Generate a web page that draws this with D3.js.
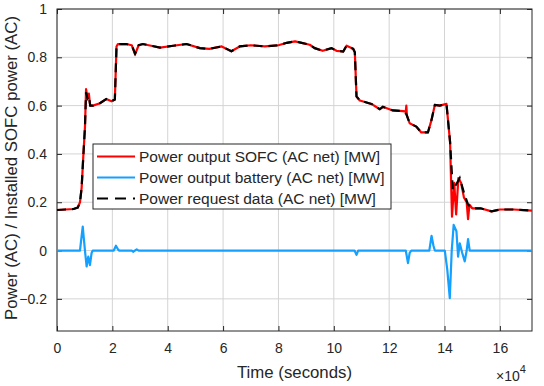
<!DOCTYPE html>
<html>
<head>
<meta charset="utf-8">
<script src="https://cdn.jsdelivr.net/npm/d3@7"></script>
<style>
  body { margin: 0; background: #fff; overflow: hidden; }
  svg { display: block; }
  text { font-family: Arial, "Liberation Sans", sans-serif; fill: #262626; }
</style>
</head>
<body>
<div id="chart"></div>
<script>
// time in units of 1e4 seconds, values relative to installed SOFC power
const requestData = [
  [0, 0.168], [0.3, 0.17], [0.6, 0.172], [0.75, 0.178], [0.83, 0.2], [0.89, 0.26],
  [0.95, 0.39], [1.01, 0.51], [1.05, 0.655], [1.1, 0.63], [1.15, 0.64], [1.2, 0.6],
  [1.3, 0.6], [1.55, 0.61], [1.78, 0.627], [1.97, 0.618], [2.09, 0.625], [2.15, 0.845],
  [2.2, 0.855], [2.5, 0.855], [2.7, 0.85], [2.82, 0.815], [2.95, 0.85], [3.1, 0.855],
  [3.4, 0.848], [3.72, 0.84], [4.2, 0.848], [4.68, 0.855], [5.16, 0.838], [5.5, 0.835],
  [5.95, 0.845], [6.3, 0.825], [6.6, 0.845], [7.0, 0.85], [7.5, 0.845], [8.0, 0.85],
  [8.3, 0.86], [8.6, 0.866], [8.8, 0.861], [9.13, 0.852], [9.31, 0.838], [9.6, 0.827],
  [9.92, 0.838], [10.1, 0.827], [10.34, 0.824], [10.46, 0.848], [10.7, 0.835], [10.76, 0.821],
  [10.82, 0.638], [10.94, 0.621], [11.36, 0.607], [11.66, 0.585], [11.77, 0.595], [12.13, 0.58],
  [12.5, 0.577], [12.62, 0.565], [12.74, 0.527], [12.98, 0.513], [13.16, 0.489], [13.4, 0.489],
  [13.53, 0.541], [13.65, 0.603], [13.83, 0.6], [14.07, 0.607], [14.2, 0.45], [14.3, 0.25],
  [14.45, 0.28], [14.55, 0.3], [14.7, 0.24], [14.85, 0.19], [15.0, 0.175], [15.3, 0.175],
  [15.7, 0.162], [16.0, 0.17], [16.5, 0.17], [17.16, 0.165]
];

const sofcData = [
  [0, 0.168], [0.3, 0.17], [0.6, 0.172], [0.75, 0.178], [0.83, 0.2], [0.89, 0.26],
  [0.95, 0.39], [1.01, 0.51], [1.05, 0.668], [1.1, 0.63], [1.15, 0.65], [1.2, 0.6],
  [1.3, 0.6], [1.55, 0.61], [1.78, 0.627], [1.97, 0.618], [2.09, 0.625], [2.15, 0.845],
  [2.2, 0.855], [2.5, 0.855], [2.7, 0.85], [2.82, 0.812], [2.95, 0.85], [3.1, 0.855],
  [3.4, 0.848], [3.72, 0.84], [4.2, 0.848], [4.68, 0.855], [5.16, 0.838], [5.5, 0.835],
  [5.95, 0.845], [6.3, 0.825], [6.6, 0.845], [7.0, 0.85], [7.5, 0.845], [8.0, 0.85],
  [8.3, 0.86], [8.6, 0.866], [8.8, 0.861], [9.13, 0.852], [9.31, 0.838], [9.6, 0.827],
  [9.92, 0.838], [10.1, 0.827], [10.34, 0.824], [10.46, 0.848], [10.7, 0.835], [10.76, 0.821],
  [10.82, 0.638], [10.94, 0.621], [11.36, 0.607], [11.66, 0.585], [11.77, 0.595], [12.13, 0.58],
  [12.5, 0.577], [12.6, 0.575], [12.62, 0.6], [12.64, 0.56], [12.74, 0.527], [12.98, 0.513],
  [13.16, 0.489], [13.4, 0.489], [13.53, 0.541], [13.65, 0.603], [13.83, 0.6], [14.07, 0.607],
  [14.2, 0.45], [14.27, 0.14], [14.35, 0.28], [14.42, 0.15], [14.5, 0.3], [14.6, 0.28],
  [14.7, 0.22], [14.8, 0.2], [14.85, 0.13], [14.9, 0.19], [15.0, 0.175], [15.3, 0.175],
  [15.7, 0.162], [16.0, 0.17], [16.5, 0.17], [17.16, 0.165]
];

const batteryData = [
  [0, 0], [0.83, 0], [0.88, 0.05], [0.93, 0.099], [0.97, 0.05], [1.01, 0], [1.07, -0.066],
  [1.13, -0.025], [1.19, -0.06], [1.25, -0.01], [1.29, 0], [2.05, 0], [2.13, 0.02],
  [2.2, 0.005], [2.25, 0], [2.7, 0], [2.75, -0.005], [2.88, 0.005], [2.95, 0], [10.75, 0],
  [10.82, -0.018], [10.88, 0], [12.6, 0], [12.68, -0.052], [12.74, -0.01], [12.8, 0],
  [13.45, 0], [13.53, 0.061], [13.6, 0.02], [13.65, 0], [14.01, 0], [14.1, -0.08],
  [14.19, -0.197], [14.26, 0], [14.33, 0.106], [14.43, 0.08], [14.49, -0.025], [14.55, 0.03],
  [14.64, -0.01], [14.73, -0.045], [14.8, 0], [14.85, 0.047], [14.91, 0], [17.16, 0]
];

const xTicks = [0, 2, 4, 6, 8, 10, 12, 14, 16];
const yTicks = [-0.2, 0, 0.2, 0.4, 0.6, 0.8, 1];
const legendLabels = [
  "Power output SOFC (AC net) [MW]",
  "Power output battery (AC net) [MW]",
  "Power request data (AC net) [MW]"
];

const width = 544;
const height = 386;
const margin = { top: 9, right: 12, bottom: 55, left: 57 };
const innerWidth = width - margin.left - margin.right;
const innerHeight = height - margin.top - margin.bottom;

const svg = d3
  .select("#chart")
  .append("svg")
  .attr("width", width)
  .attr("height", height);

const g = svg.append("g").attr("transform", `translate(${margin.left},${margin.top})`);

const x = d3.scaleLinear().domain([0, 17.16]).range([0, innerWidth]);
const y = d3.scaleLinear().domain([-0.333, 1]).range([innerHeight, 0]);

// grid
g.append("g")
  .selectAll("line")
  .data(xTicks)
  .join("line")
  .attr("x1", (d) => x(d))
  .attr("x2", (d) => x(d))
  .attr("y1", 0)
  .attr("y2", innerHeight)
  .attr("stroke", "#d4d4d4");

g.append("g")
  .selectAll("line")
  .data(yTicks)
  .join("line")
  .attr("x1", 0)
  .attr("x2", innerWidth)
  .attr("y1", (d) => y(d))
  .attr("y2", (d) => y(d))
  .attr("stroke", "#d4d4d4");

// axes (ticks point inward, mirrored on top and right)
const xAxis = g
  .append("g")
  .attr("transform", `translate(0,${innerHeight})`)
  .call(d3.axisBottom(x).tickValues(xTicks).tickSizeInner(-5).tickSizeOuter(0).tickPadding(12));
const xAxisTop = g.append("g").call(d3.axisTop(x).tickValues(xTicks).tickSizeInner(-5).tickSizeOuter(0));
const yAxis = g
  .append("g")
  .call(d3.axisLeft(y).tickValues(yTicks).tickSizeInner(-5).tickSizeOuter(0).tickPadding(10).tickFormat((d) => (d === 0 || d === 1 ? d : d3.format(".1f")(d))));
const yAxisRight = g
  .append("g")
  .attr("transform", `translate(${innerWidth},0)`)
  .call(d3.axisRight(y).tickValues(yTicks).tickSizeInner(-5).tickSizeOuter(0));

xAxisTop.selectAll("text").remove();
yAxisRight.selectAll("text").remove();

[xAxis, xAxisTop, yAxis, yAxisRight].forEach((a) => {
  a.select(".domain").remove();
  a.selectAll(".tick line").attr("stroke", "#262626");
  a.selectAll("text").style("font-size", "14px").attr("fill", "#262626");
});

g.append("rect")
  .attr("width", innerWidth)
  .attr("height", innerHeight)
  .attr("fill", "none")
  .attr("stroke", "#262626")
  .attr("stroke-width", 1);

// lines
const line = d3
  .line()
  .x((d) => x(d[0]))
  .y((d) => y(d[1]));

const plot = g.append("g");

plot.append("path")
  .datum(sofcData)
  .attr("d", line)
  .attr("fill", "none")
  .attr("stroke", "#ff0000")
  .attr("stroke-width", 2.2)
  .attr("stroke-linejoin", "round");

plot.append("path")
  .datum(batteryData)
  .attr("d", line)
  .attr("fill", "none")
  .attr("stroke", "#14a0ff")
  .attr("stroke-width", 2.2)
  .attr("stroke-linejoin", "round");

plot.append("path")
  .datum(requestData)
  .attr("d", line)
  .attr("fill", "none")
  .attr("stroke", "#000")
  .attr("stroke-width", 2.2)
  .attr("stroke-dasharray", "9,6");

// axis labels
svg.append("text")
  .attr("x", margin.left + innerWidth / 2)
  .attr("y", 378)
  .attr("text-anchor", "middle")
  .style("font-size", "16.8px")
  .text("Time (seconds)");

const expo = svg.append("text").attr("x", 496).attr("y", 381).style("font-size", "14px");
expo.append("tspan").text("\u00d710");
expo.append("tspan").attr("dy", -8).style("font-size", "11px").text("4");

svg.append("text")
  .attr("transform", `translate(17,168) rotate(-90)`)
  .attr("text-anchor", "middle")
  .style("font-size", "16.8px")
  .text("Power (AC) / Installed SOFC power (AC)");

// legend
const legend = svg.append("g").attr("transform", "translate(93,144)");

legend.append("rect")
  .attr("width", 298)
  .attr("height", 65)
  .attr("fill", "#fff")
  .attr("stroke", "#262626")
  .attr("stroke-width", 1);

const legendStyles = [
  { color: "#ff0000", dash: null },
  { color: "#14a0ff", dash: null },
  { color: "#000", dash: "11,7" }
];

const items = legend
  .selectAll("g")
  .data(legendLabels)
  .join("g")
  .attr("transform", (d, i) => `translate(0,${12.5 + i * 21})`);

items.append("line")
  .attr("x1", 4)
  .attr("x2", 42)
  .attr("stroke", (d, i) => legendStyles[i].color)
  .attr("stroke-width", 2.2)
  .attr("stroke-dasharray", (d, i) => legendStyles[i].dash);

items.append("text")
  .attr("x", 46)
  .attr("dy", "0.35em")
  .style("font-size", "15.5px")
  .text((d) => d);
</script>
</body>
</html>
